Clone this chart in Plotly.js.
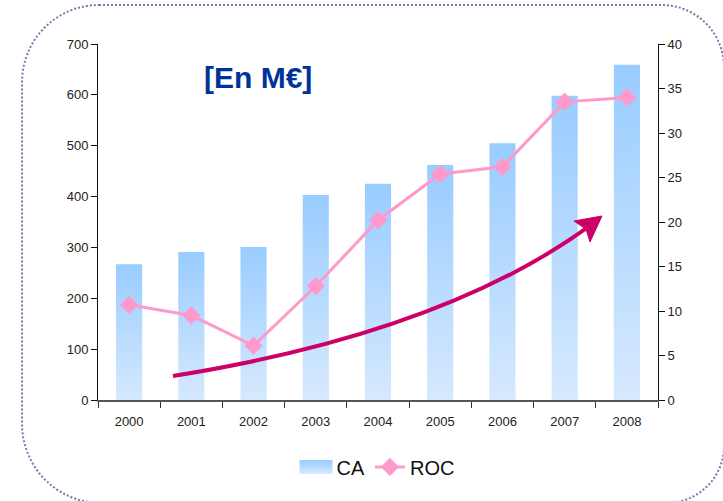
<!DOCTYPE html>
<html>
<head>
<meta charset="utf-8">
<script src="https://cdn.plot.ly/plotly-3.0.1.min.js"></script>
<style>
  html, body { margin: 0; padding: 0; background: #ffffff; }
  #frame { position: absolute; left: 21px; top: 4px; width: 704px; height: 500px; box-sizing: border-box;
           border: 2px dotted #7a78a8; border-radius: 78px 63px 58px 80px; z-index: 0; }
  #chart { position: absolute; left: 0; top: 0; width: 723px; height: 501px; z-index: 1; }
</style>
</head>
<body>
<div id="frame"></div>
<div id="chart"></div>
<script>
const years = ['2000','2001','2002','2003','2004','2005','2006','2007','2008'];
const caValues = [267, 291, 301, 403, 425, 462, 505, 598, 659];
const rocValues = [10.7, 9.5, 6.1, 12.8, 20.2, 25.4, 26.2, 33.5, 34.0];
const leftTicks = [0, 100, 200, 300, 400, 500, 600, 700];
const rightTicks = [0, 5, 10, 15, 20, 25, 30, 35, 40];

const W = 723, H = 501;
const M = { l: 98, r: 65, t: 44, b: 101 };
const PW = W - M.l - M.r, PH = H - M.t - M.b;
// pixel -> paper helpers for decorations
const px = x => ((x - M.l) / PW).toFixed(4);
const py = y => ((H - M.b - y) / PH).toFixed(4);

const curvePath = `M ${px(173)} ${py(376)} C ${px(330)} ${py(351)}, ${px(480)} ${py(306)}, ${px(591)} ${py(225)}`;
const headPath = `M ${px(602)} ${py(216)} L ${px(574)} ${py(221)} L ${px(586)} ${py(229)} L ${px(590)} ${py(242)} Z`;

const traces = [
  {
    type: 'bar', name: 'CA', x: years, y: caValues, width: 0.42,
    marker: { color: '#b3d6fc', line: { width: 0 } },
    hoverinfo: 'x+y'
  },
  {
    type: 'scatter', mode: 'lines+markers', name: 'ROC', x: years, y: rocValues, yaxis: 'y2',
    line: { color: '#ff99cc', width: 3 },
    marker: { symbol: 'diamond', size: 14, color: '#ff99cc' }
  }
];

const layout = {
  width: W, height: H,
  margin: M,
  paper_bgcolor: 'rgba(0,0,0,0)',
  plot_bgcolor: 'rgba(0,0,0,0)',
  font: { family: 'Liberation Sans, Arial, sans-serif', size: 13, color: '#222' },
  showlegend: true,
  legend: {
    orientation: 'h', x: 0.5, xanchor: 'center', y: -0.188, yanchor: 'middle',
    font: { size: 20, color: '#111' }, itemwidth: 30, tracegroupgap: 0
  },
  xaxis: {
    type: 'category', showgrid: false, zeroline: false,
    showline: true, linecolor: '#555', linewidth: 1.5,
    ticks: 'outside', tickson: 'boundaries', ticklen: 6, tickcolor: '#333', tickwidth: 1,
    ticklabelstandoff: 9,
    tickfont: { size: 13, color: '#222' }, range: [-0.5, 8.5]
  },
  yaxis: {
    range: [0, 700], tickvals: leftTicks, showgrid: false, zeroline: false,
    showline: true, linecolor: '#111', linewidth: 1,
    ticks: 'outside', ticklen: 6, tickcolor: '#111', tickfont: { size: 13, color: '#222' }
  },
  yaxis2: {
    range: [0, 40], tickvals: rightTicks, overlaying: 'y', side: 'right', showgrid: false, zeroline: false,
    showline: true, linecolor: '#111', linewidth: 1,
    ticks: 'outside', ticklen: 6, tickcolor: '#111', tickfont: { size: 13, color: '#222' }
  },
  annotations: [{
    text: '<b>[En M€]</b>', xref: 'paper', yref: 'paper', x: px(258), y: py(78),
    xanchor: 'center', yanchor: 'middle', showarrow: false,
    font: { size: 30, color: '#003399', family: 'Liberation Sans, Arial, sans-serif' }
  }],
  shapes: [
    { type: 'path', xref: 'paper', yref: 'paper', path: curvePath, line: { color: '#cc0066', width: 4 } },
    { type: 'path', xref: 'paper', yref: 'paper', path: headPath, fillcolor: '#cc0066', line: { color: '#cc0066', width: 1 } }
  ]
};

Plotly.newPlot('chart', traces, layout, { displayModeBar: false, staticPlot: true }).then(gd => {
  const svg = gd.querySelector('svg.main-svg');
  const ns = 'http://www.w3.org/2000/svg';
  const defs = document.createElementNS(ns, 'defs');
  const grad = document.createElementNS(ns, 'linearGradient');
  grad.setAttribute('id', 'caGrad');
  grad.setAttribute('x1', '0'); grad.setAttribute('y1', '0');
  grad.setAttribute('x2', '0'); grad.setAttribute('y2', '1');
  [['0', '#99ccff'], ['1', '#d6e9fe']].forEach(([o, c]) => {
    const s = document.createElementNS(ns, 'stop');
    s.setAttribute('offset', o); s.setAttribute('stop-color', c);
    grad.appendChild(s);
  });
  defs.appendChild(grad);
  svg.insertBefore(defs, svg.firstChild);
  gd.querySelectorAll('.bars .point path').forEach(p => { p.style.fill = 'url(#caGrad)'; });
  const legTraces = gd.querySelectorAll('.legend .traces');
  if (legTraces.length) {
    legTraces[0].querySelectorAll('.legendpoints path').forEach(p => {
      p.setAttribute('d', 'M-17,-7h33v14h-33Z');
      p.style.fill = 'url(#caGrad)';
      p.style.stroke = 'none';
    });
  }
});
</script>
</body>
</html>
